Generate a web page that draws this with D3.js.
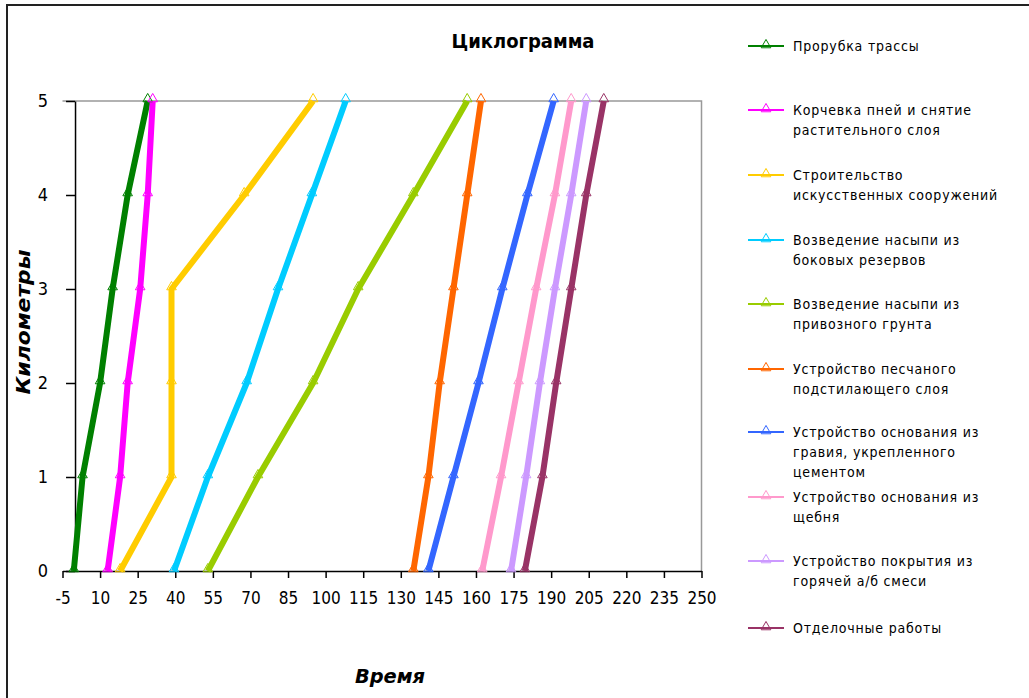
<!DOCTYPE html>
<html><head><meta charset="utf-8">
<script src="https://cdn.jsdelivr.net/npm/d3@7/dist/d3.min.js"></script>
<style>
html,body{margin:0;padding:0;background:#fff;}
svg{display:block;}
text{font-family:"DejaVu Sans Condensed","Liberation Sans",sans-serif;}
</style></head><body>
<svg id="chart" width="1029" height="698"></svg>
<script>
const kilometers = [0, 1, 2, 3, 4, 5];
const seriesNames = [
  "Прорубка трассы",
  "Корчевка пней и снятие растительного слоя",
  "Строительство искусственных сооружений",
  "Возведение насыпи из боковых резервов",
  "Возведение насыпи из привозного грунта",
  "Устройство песчаного подстилающего слоя",
  "Устройство основания из гравия, укрепленного цементом",
  "Устройство основания из щебня",
  "Устройство покрытия из горячей а/б смеси",
  "Отделочные работы"
];
const legendLines = [
  ["Прорубка трассы"],
  ["Корчевка пней и снятие", "растительного слоя"],
  ["Строительство", "искусственных сооружений"],
  ["Возведение насыпи из", "боковых резервов"],
  ["Возведение насыпи из", "привозного грунта"],
  ["Устройство песчаного", "подстилающего слоя"],
  ["Устройство основания из", "гравия, укрепленного", "цементом"],
  ["Устройство основания из", "щебня"],
  ["Устройство покрытия из", "горячей а/б смеси"],
  ["Отделочные работы"]
];
const seriesColors = ["#008000","#ff00ff","#ffcc00","#00ccff","#99cc00","#ff6600","#3366ff","#ff99cc","#cc99ff","#993366"];
const timeClearing   = [-0.5, 3, 10, 15, 21, 29];
const timeStumps     = [13, 18, 21, 26, 29, 31];
const timeStructures = [18, 38.5, 38.5, 38.5, 67.5, 95];
const timeSideFill   = [39.5, 53, 68.5, 81, 94.5, 108];
const timeImportFill = [53, 73, 95, 113, 135, 156.5];
const timeSand       = [135, 141, 145.5, 151, 156.5, 162];
const timeGravel     = [141, 151, 161, 170.5, 180.5, 191];
const timeCrushed    = [162.5, 170, 177, 184, 191.5, 198];
const timeAsphalt    = [174, 180, 185.5, 191.5, 198, 204];
const timeFinishing  = [179.5, 186.5, 192, 198, 204, 211];
const seriesValues = [timeClearing, timeStumps, timeStructures, timeSideFill, timeImportFill,
                      timeSand, timeGravel, timeCrushed, timeAsphalt, timeFinishing];
const xTicks = d3.range(-5, 251, 15);
const yTicks = [0, 1, 2, 3, 4, 5];

const svg = d3.select("#chart");
// outer border
svg.append("rect").attr("x", 7).attr("y", 5).attr("width", 1040).attr("height", 720)
  .attr("fill", "none").attr("stroke", "#222").attr("stroke-width", 2);

const x = d3.scaleLinear().domain([-5, 250]).range([62.5, 701.5]);
const y = d3.scaleLinear().domain([0, 5]).range([571, 101]);

// plot area border (top and right)
svg.append("path").attr("d", `M${x(-5)},${y(5)}H${x(250)}V${y(0)}`)
  .attr("fill", "none").attr("stroke", "#999").attr("stroke-width", 1.5);

const fmt = d => String(d);
// x axis
const xAxis = svg.append("g").attr("transform", `translate(0,${y(0)})`)
  .call(d3.axisBottom(x).tickValues(xTicks).tickFormat(fmt).tickSize(7).tickPadding(14).tickSizeOuter(0));
xAxis.select(".domain").attr("stroke", "#000").attr("stroke-width", 1.5);
xAxis.selectAll(".tick line").attr("stroke", "#000").attr("stroke-width", 1.5);
xAxis.selectAll("text").attr("font-size", 17).attr("fill", "#000");

// y axis at x=0
const yAxis = svg.append("g").attr("transform", `translate(${x(0)},0)`)
  .call(d3.axisLeft(y).tickValues(yTicks).tickFormat(fmt).tickSize(9).tickPadding(18).tickSizeOuter(0));
yAxis.select(".domain").attr("stroke", "#000").attr("stroke-width", 1.5);
yAxis.selectAll(".tick line").attr("stroke", "#000").attr("stroke-width", 1.5);
yAxis.selectAll("text").attr("font-size", 18).attr("fill", "#000");

// lines
const line = d3.line().x(d => x(d[0])).y(d => y(d[1]));
seriesValues.forEach((vals, i) => {
  const pts = vals.map((v, k) => [v, kilometers[k]]);
  svg.append("path").datum(pts).attr("d", line)
    .attr("fill", "none").attr("stroke", seriesColors[i]).attr("stroke-width", 6)
    .attr("stroke-linejoin", "round");
});
// markers
const tri = d3.symbol().type(d3.symbolTriangle).size(40);
seriesValues.forEach((vals, i) => {
  svg.append("g").selectAll("path").data(vals.map((v, k) => [v, kilometers[k]])).join("path")
    .attr("d", tri).attr("transform", d => `translate(${x(d[0])},${y(d[1]) - 2})`)
    .attr("fill", "none").attr("stroke", seriesColors[i]).attr("stroke-width", 1);
});

// title
svg.append("text").attr("x", 523).attr("y", 48).attr("text-anchor", "middle")
  .attr("font-size", 20).attr("font-weight", "bold").attr("fill", "#000")
  .attr("textLength", 143).attr("lengthAdjust", "spacingAndGlyphs").text("Циклограмма");
// axis titles
svg.append("text").attr("x", 390).attr("y", 683).attr("text-anchor", "middle")
  .attr("font-size", 20).attr("font-weight", "bold").attr("font-style", "italic").attr("fill", "#000")
  .attr("textLength", 70).attr("lengthAdjust", "spacingAndGlyphs").text("Время");
svg.append("text").attr("transform", "translate(30,322) rotate(-90)").attr("text-anchor", "middle")
  .attr("font-size", 20).attr("font-weight", "bold").attr("font-style", "italic").attr("fill", "#000")
  .attr("textLength", 145).attr("lengthAdjust", "spacingAndGlyphs").text("Километры");

// legend
const legendY = [46, 110, 175, 240, 304, 369, 432, 497, 561, 628];
const lg = svg.append("g");
legendLines.forEach((lines, i) => {
  const g = lg.append("g").attr("transform", `translate(0,${legendY[i]})`);
  g.append("line").attr("x1", 748).attr("x2", 784).attr("y1", 0).attr("y2", 0)
    .attr("stroke", seriesColors[i]).attr("stroke-width", 2);
  g.append("path").attr("d", tri).attr("transform", "translate(766,-1)")
    .attr("fill", "none").attr("stroke", seriesColors[i]).attr("stroke-width", 1);
  lines.forEach((t, j) => {
    g.append("text").attr("x", 793).attr("y", j * 20 + 5).attr("font-size", 14)
      .attr("letter-spacing", 0.8).attr("fill", "#000").text(t);
  });
});
</script></body></html>
